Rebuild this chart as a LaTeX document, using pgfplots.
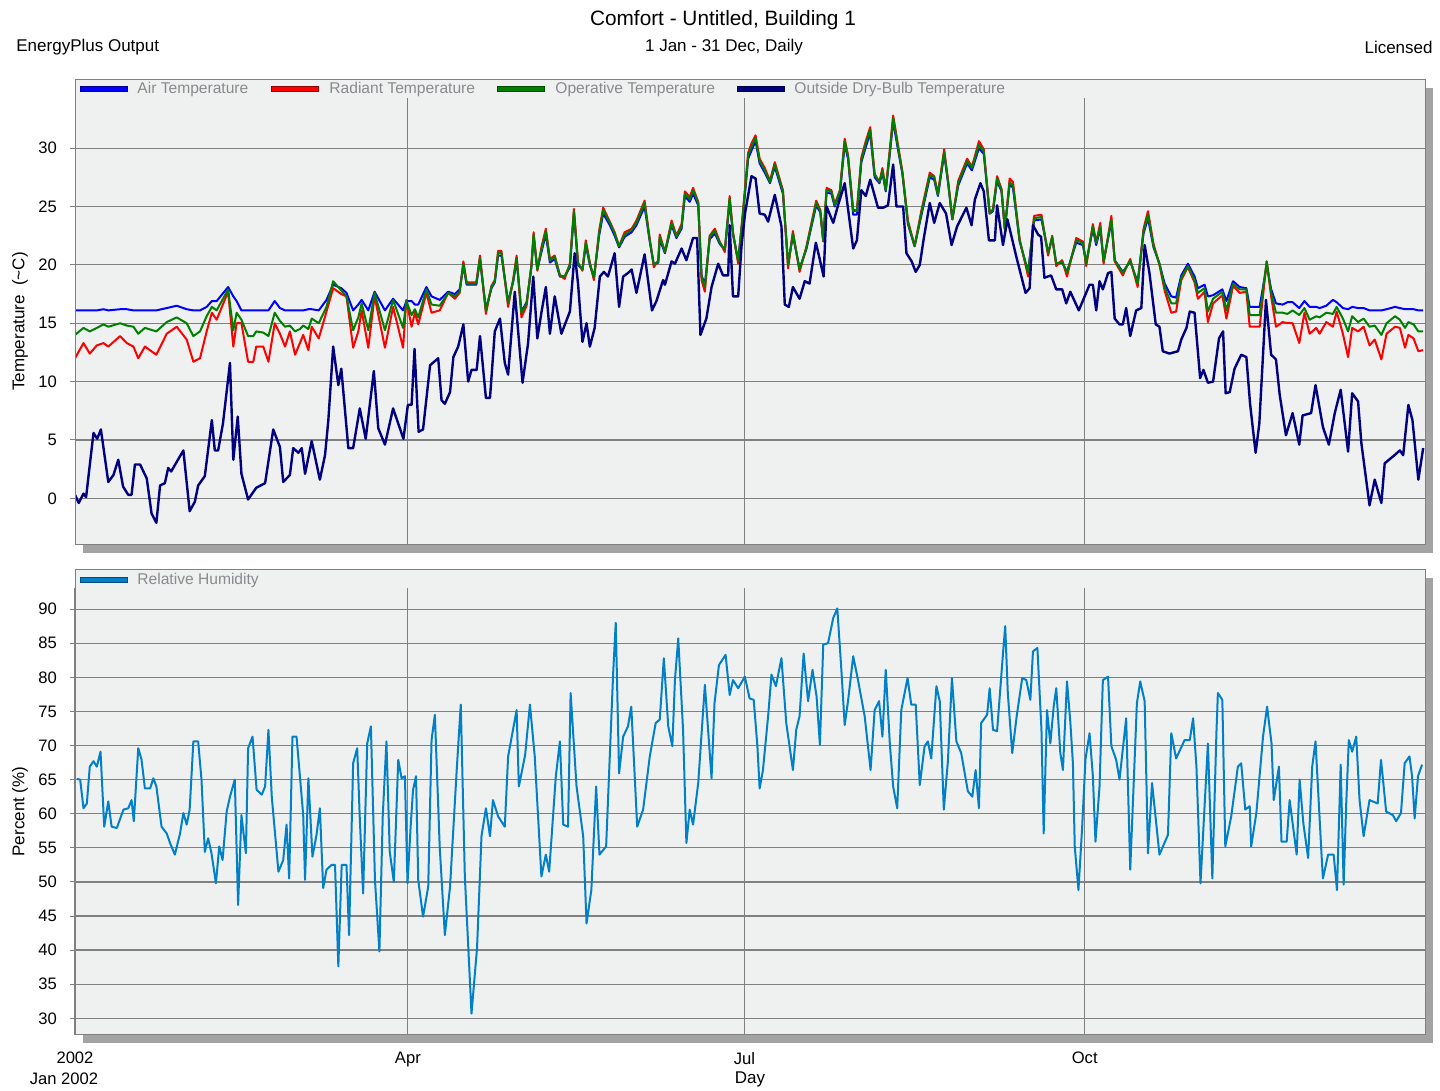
\documentclass[border=0pt]{standalone}
\usepackage{fontspec}
\setmainfont{Liberation Sans}
\usepackage{pgfplots}
\usepackage{pgfplotstable}
\pgfplotsset{compat=1.18}
\definecolor{bgc}{RGB}{239,240,240}
\definecolor{shadowc}{RGB}{163,163,163}
\definecolor{gridc}{RGB}{128,128,128}
\definecolor{legtxt}{RGB}{138,138,142}
\definecolor{airc}{RGB}{0,0,255}
\definecolor{radc}{RGB}{255,0,0}
\definecolor{opc}{RGB}{0,128,0}
\definecolor{outc}{RGB}{0,0,128}
\definecolor{rhc}{RGB}{0,128,200}

\pgfplotstableread{
d air rad op
0 16.1 12.0 14.0
2.3 16.1 13.3 14.6
4 16.1 12.4 14.3
5.9 16.1 13.1 14.6
7.7 16.2 13.3 14.9
9 16.1 13.0 14.7
12.2 16.2 13.9 15.0
14 16.2 13.3 14.8
15.8 16.1 13.0 14.7
17.1 16.1 12.0 14.1
18.9 16.1 13.0 14.6
22 16.1 12.3 14.3
24.8 16.3 14.1 15.1
27.5 16.5 14.7 15.5
30.2 16.2 13.6 15.0
32 16.1 11.7 13.9
33.8 16.1 12.0 14.3
35.6 16.4 14.3 15.6
37 16.9 15.9 16.4
38.3 16.9 15.3 16.1
41.4 18.1 17.7 17.9
42.8 17.3 13.0 14.4
43.7 16.9 15.0 15.9
45 16.1 15.0 15.3
46.8 16.1 11.7 13.9
48.2 16.1 11.7 13.9
49 16.1 13.0 14.3
50.9 16.1 13.0 14.2
52.3 16.1 11.7 13.9
54 16.9 15.0 15.9
55.4 16.3 14.1 15.2
56.8 16.1 13.0 14.7
58.1 16.1 14.3 14.8
59.5 16.1 12.3 14.3
60.8 16.1 13.3 14.5
61.7 16.1 14.0 14.8
63.1 16.2 12.7 14.5
64 16.2 14.7 15.4
65.9 16.1 13.7 15.0
68 17.0 16.0 16.4
69.8 18.3 18.0 18.6
72 18.0 17.5 17.8
73.4 17.6 17.3 17.3
75.2 16.1 12.9 14.4
76.6 16.6 14.3 15.5
77.5 17.0 16.1 16.7
79.3 16.1 12.9 14.4
81 17.7 17.3 17.6
83.8 16.1 12.9 14.4
86 17.1 16.4 17.0
88.7 16.1 12.9 14.6
89.6 16.9 17.0 16.9
91 16.9 14.7 15.7
91.9 16.6 15.9 16.2
92.8 16.6 14.9 15.5
95 18.1 17.6 17.9
96.4 17.3 15.9 16.6
98.6 17.0 16.1 16.5
100.9 17.7 17.6 17.6
102.7 17.5 17.1 17.3
104 17.9 17.6 17.7
105 19.9 20.3 20.1
105.9 18.3 18.5 18.4
108.5 18.3 18.5 18.4
109.5 20.4 20.8 20.6
111.1 16.2 15.8 16.1
112.6 18.0 18.2 18.1
113.5 18.5 18.7 18.6
114.4 20.8 21.2 21.0
115.3 20.8 21.2 21.0
117.1 16.8 16.4 16.7
118.5 18.6 18.8 18.7
119.4 20.4 20.8 20.6
120.7 16.0 15.5 15.9
122.1 16.8 16.5 16.7
123.4 19.8 20.0 19.9
124 22.4 22.8 22.6
125 19.6 19.5 19.6
126.1 21.1 21.5 21.3
127.3 22.6 23.1 22.9
128.4 20.2 20.5 20.4
129.7 20.5 20.8 20.7
131.1 19.0 19.1 19.1
132.4 19.0 18.8 19.0
133.8 19.8 20.1 20.0
134.9 24.4 24.8 24.6
136 20.0 20.2 20.1
137.2 19.6 19.5 19.6
138.1 21.7 22.1 21.9
139.2 20.0 20.2 20.1
140.3 18.9 18.7 18.9
141.7 22.5 22.9 22.7
142.8 24.4 24.9 24.7
144.6 23.4 23.7 23.6
145.9 22.5 22.8 22.7
147.1 21.5 21.6 21.6
148.6 22.4 22.8 22.6
150.5 22.8 23.1 23.0
151.8 23.4 23.8 23.6
154 25.0 25.5 25.3
155.4 22.0 22.2 22.1
156.5 20.0 19.8 20.0
157.7 20.2 20.4 20.3
158.1 22.2 22.6 22.4
159.5 21.0 21.1 21.1
161.3 23.4 23.8 23.6
162.6 22.3 22.5 22.4
164 23.1 23.5 23.3
164.9 25.9 26.3 26.1
166.2 25.4 25.8 25.6
167.1 26.1 26.6 26.4
168.5 25.1 25.4 25.3
169.4 19.1 18.7 19.0
170.3 18.3 17.7 18.1
171.6 22.2 22.5 22.4
173 22.7 23.1 22.9
174.3 21.8 22.0 21.9
175.7 21.3 21.1 21.3
177 25.4 25.9 25.7
177.9 22.6 22.8 22.7
179.3 20.4 20.1 20.3
180.6 24.2 24.6 24.4
182 29.1 29.6 29.4
182.9 29.8 30.4 30.1
184 30.6 31.1 30.9
185.1 28.7 29.1 28.9
186.5 27.9 28.3 28.1
187.9 27.0 27.2 27.1
189.2 28.4 28.8 28.6
191.4 26.1 26.4 26.3
192.8 20.1 19.7 20.0
194.1 22.5 22.9 22.7
195.9 19.7 19.4 19.6
197.7 21.3 21.5 21.4
200.4 25.1 25.5 25.3
201.5 24.5 24.7 24.6
202.3 22.1 22.0 22.1
203.2 26.2 26.6 26.4
204.5 26.1 26.4 26.3
205.4 25.0 25.2 25.1
206.8 26.1 26.4 26.3
208.1 30.3 30.8 30.6
209 29.1 29.4 29.3
210.4 24.3 24.7 24.6
211.4 24.3 24.7 24.6
212.6 28.8 29.2 29.0
213.8 30.1 30.6 30.4
215 31.3 31.8 31.6
216.2 27.5 27.8 27.7
217.5 27.0 27.1 27.1
218.3 27.9 28.3 28.1
219.2 26.3 26.5 26.4
220.3 29.5 29.9 29.7
221.2 32.3 32.8 32.6
222.5 29.9 30.3 30.1
223.7 27.8 28.0 27.9
225.2 23.5 23.8 23.6
227 21.6 21.6 21.6
228.8 24.2 24.6 24.4
231.1 27.5 27.9 27.7
232.3 27.3 27.6 27.5
233.3 25.9 26.1 26.0
235 29.5 29.9 29.7
236.1 26.9 27.1 27.0
237.2 23.9 23.9 23.9
238.8 26.8 27.2 27.0
241.2 28.7 29.1 28.9
242.5 28.1 28.4 28.3
244.4 30.0 30.6 30.3
245.7 29.5 29.9 29.7
247.3 24.4 24.4 24.4
248.2 24.6 24.8 24.7
249.3 27.2 27.6 27.4
250.5 26.3 26.5 26.4
251.4 23.1 23.0 23.1
252.7 26.9 27.4 27.1
253.6 26.6 27.1 26.8
255.4 22.0 22.2 22.1
257.7 19.4 19.0 19.3
259.3 23.8 24.2 24.0
261.3 23.9 24.3 24.1
263.1 21.0 20.8 21.0
264.2 22.3 22.5 22.4
265.3 20.1 19.9 20.1
266.9 20.2 20.4 20.3
268.2 19.4 19.0 19.3
270.7 21.9 22.3 22.1
272.5 21.7 22.0 21.9
273.4 20.2 19.9 20.1
275.2 23.1 23.5 23.3
276.1 21.7 21.9 21.9
277.2 23.1 23.6 23.3
278.1 20.3 20.1 20.3
280.2 23.7 24.2 23.9
281.1 20.4 20.3 20.4
283.3 19.4 19.1 19.3
285.3 20.3 20.5 20.4
287.3 18.5 18.1 18.4
288.9 22.7 23.1 22.9
290.1 24.0 24.6 24.3
291.6 21.5 21.8 21.6
293.2 20.1 20.0 20.1
294.6 18.4 17.8 18.1
296.4 17.3 15.9 16.7
297.7 17.2 16.0 16.7
299.1 19.1 18.7 18.9
300.9 20.1 19.8 19.9
302.7 19.0 18.5 18.7
303.6 18.0 17.1 17.6
305.4 18.3 17.7 18.0
306.3 17.3 15.1 16.0
307.7 17.4 16.7 17.1
310.2 17.9 17.4 17.7
311.3 16.9 15.4 16.1
313.1 18.6 18.2 18.4
314.9 18.1 17.6 17.9
316.7 18.0 17.7 17.9
317.6 16.4 14.7 15.7
320.3 16.4 14.7 15.7
322.2 20.0 20.3 20.3
323.4 17.9 17.3 17.6
324.7 16.7 14.7 15.9
326.5 16.6 15.1 15.9
327.8 16.8 15.0 15.8
329.2 16.8 15.0 16.1
331 16.3 13.3 15.7
332.4 16.9 15.9 16.3
333.8 16.4 14.1 15.3
335.6 16.4 14.6 15.6
336.5 16.3 14.1 15.5
338.3 16.5 15.1 15.9
340.1 17.0 14.7 15.8
341.1 16.8 16.0 16.4
342.8 16.3 14.1 15.4
344.2 16.2 12.1 14.3
345.3 16.4 14.6 15.6
346.9 16.3 14.3 15.1
348.4 16.3 14.7 15.4
350 16.1 13.1 14.7
351.4 16.1 13.6 14.8
353.2 16.1 11.9 14.0
354.6 16.2 14.1 15.0
356.9 16.4 14.7 15.6
358.2 16.3 14.6 15.3
359.6 16.2 12.9 14.6
360.5 16.2 14.0 15.1
361.9 16.2 13.7 14.9
363.2 16.1 12.6 14.3
364.5 16.1 12.7 14.3
}\indoor

\pgfplotstableread{
d t
0 0.3
1 -0.4
2.3 0.4
3 0.1
5 5.6
6 5.1
7 5.9
9 1.4
10.4 2.0
11.7 3.3
13 1.0
14.4 0.3
15.3 0.3
16.2 2.9
17.6 2.9
19.4 1.7
20.7 -1.3
22 -2.1
23 1.1
24.3 1.3
25.2 2.6
26 2.3
29.3 4.1
31 -1.1
32.4 -0.3
33.3 1.1
35.1 1.9
37 6.7
37.8 4.1
38.7 4.1
40 6.4
41.9 11.6
42.8 3.3
44 7.0
45 2.1
46.8 -0.1
49 0.9
51.4 1.3
53.6 5.9
55.4 4.4
56.3 1.4
58.1 2.0
59 4.3
60.4 3.9
61.3 4.3
62.2 2.1
64 4.9
66.2 1.6
67.6 3.7
68.5 6.7
69.8 13.0
71.2 9.7
72 11.1
73.9 4.3
75.2 4.3
77 7.7
78.6 5.1
80.8 10.9
82 6.0
83.8 4.6
86 7.7
88.8 5.1
90 8.0
91 8.0
91.8 12.8
92.9 5.7
94.1 5.9
96 11.4
98.2 12.0
99.1 8.4
100 8.1
101.4 9.1
102.3 12.1
103.6 13.0
105 14.9
106.3 10.0
107.2 11.0
108.6 11.0
109.5 13.9
111.1 8.6
112.2 8.6
113.5 14.3
114.9 15.4
116.2 11.6
117.1 10.6
118.9 17.7
121 9.9
122.5 13.3
123.9 19.0
125 13.7
126.1 15.9
127.3 18.1
128.4 14.1
129.7 17.3
131.5 14.1
133.8 16.0
135.1 21.0
136 18.4
137.2 13.4
138.3 15.0
139.2 13.0
140.5 14.6
141.9 19.0
143 19.4
144.1 19.0
145.9 21.0
147.1 16.4
148.2 19.0
149.5 19.3
150.5 19.6
151.8 17.6
154 20.9
156 16.1
157.2 16.9
159 18.7
159.5 18.3
161.3 20.3
162.2 20.1
164 21.4
165.3 20.4
167.1 22.3
168.2 22.3
169.1 14.0
170.7 15.4
172.1 18.1
173.9 20.1
175.2 19.1
176.6 19.1
177 23.4
177.9 17.3
179.3 17.3
180.2 21.6
181.2 24.5
182.9 27.6
184 27.4
185.1 24.4
186.5 24.3
187.4 23.7
189.2 26.0
191 23.3
191.9 16.6
193 16.4
194.1 18.1
195.9 17.1
197.3 18.6
198.6 18.4
200.3 21.9
201.2 20.7
202.4 19.0
203.2 25.0
205 23.6
206.3 25.1
208.1 27.0
210.4 21.4
211.4 22.1
212.6 26.4
213.8 25.9
215 27.3
217.1 24.9
218.5 24.9
219.8 25.1
221.2 28.6
222.1 25.0
223.9 25.0
224.8 21.0
226.2 20.3
227.3 19.4
228.4 20.0
229.5 22.3
231.1 25.3
232.3 23.6
233.8 25.3
235.5 24.4
237 21.7
238.5 23.3
241 24.9
242.4 23.4
243.3 25.6
244.8 27.0
245.7 26.3
247.1 22.1
248.7 22.1
249.3 25.1
250.9 21.7
252.1 23.9
254.5 20.7
257 17.6
258.1 18.0
259 23.4
260.4 22.6
261.2 22.4
262.1 18.9
263.9 19.1
265.3 17.9
266.9 17.9
268 16.7
269.1 17.7
271.4 16.1
274.3 18.3
275.2 18.3
276.1 16.1
277 18.6
277.9 17.9
279.3 19.3
280.2 19.4
281.1 15.4
282.4 14.9
283.3 14.9
284.2 16.3
285.3 13.9
286.9 16.1
288.3 16.3
289.2 21.7
290.5 19.3
292.2 14.9
293.2 14.7
294.1 12.6
295.9 12.4
298.2 12.6
299.1 13.6
300.5 14.6
301.4 16.0
302.7 15.9
304.2 10.3
305.1 11.0
306.3 9.9
307.7 10.0
309.3 13.7
310.4 14.3
311.1 9.0
312.2 9.1
313.5 11.1
315.3 12.3
316.7 12.1
317.7 8.1
319.2 3.9
320.2 6.4
322 17.0
323.4 12.3
324.7 11.9
325.7 8.9
327.4 5.4
329.2 7.3
331 4.6
331.9 7.1
334.2 7.3
335.4 9.7
337.4 6.1
339 4.6
340.6 7.3
342.2 9.3
344.2 4.0
345.3 9.0
346.9 8.3
347.8 4.7
350 -0.6
351.4 1.6
353.2 -0.4
354.1 3.0
356.4 3.6
358.2 4.1
359.1 3.7
360.5 8.0
361.6 6.7
363.2 1.6
364.5 4.3
}\outdoor

\pgfplotstableread{
d rh
0.5 65.1
1.4 65.0
2.3 60.8
3.2 61.5
4 66.9
5 67.7
5.9 66.9
6.9 69.1
7.9 58.1
9 61.8
9.9 58.1
11.3 57.9
13.1 60.6
14.4 60.8
15.3 62.0
15.9 58.9
17.1 69.6
18 67.9
18.9 63.7
20.3 63.7
21.2 65.2
22 64.0
23.4 58.1
24.8 57.1
25.7 55.7
27 54.0
28.4 57.1
29.3 60.1
30.2 58.4
31 60.6
32 70.6
33.3 70.6
34.2 65.0
35.1 54.4
36 56.4
36.9 54.2
38.1 49.8
39 55.2
39.9 53.2
41 60.3
41.9 62.5
43.2 65.0
44.1 46.6
45 59.8
46.2 54.2
46.8 69.6
48 71.3
49.1 63.5
50.5 62.8
51.4 64.0
52.3 72.3
53.2 62.5
55 51.5
56.3 53.2
57.2 58.4
57.9 50.5
58.8 71.3
59.9 71.3
61.7 59.8
62.2 50.3
63.1 65.2
64.2 53.7
65.3 56.9
66.2 60.8
67.1 49.1
68 51.8
69.4 52.5
70.3 52.5
71.2 37.6
72.1 52.5
73.4 52.5
74.1 42.2
75.2 67.4
76.3 69.6
77 59.3
77.9 48.3
79 70.3
80 72.8
81.1 50.3
82.3 39.8
83.2 59.6
84.2 70.6
85.1 54.4
86.2 50.0
87.4 67.9
88.3 65.2
89.2 65.5
89.9 49.8
90.8 58.6
91.4 63.5
92.2 65.5
92.8 50.3
94.1 44.9
95.5 49.3
96.4 70.8
97.3 74.5
98.6 55.2
100 42.2
101.4 49.3
103.2 66.4
104.3 76.0
105.4 50.8
107.2 30.7
108.7 40.3
109.9 56.7
111.1 60.8
112.2 56.7
113 62.0
114.4 59.6
116.2 58.1
117.1 68.4
119.4 75.2
120 64.0
121.7 68.6
123 76.0
124.3 68.4
126.1 50.8
127.3 54.0
128.2 51.5
130 65.5
131.1 70.6
132 58.4
133.3 58.1
134 77.7
135.6 64.0
137.4 56.7
138.3 43.9
139.6 48.8
140.9 64.0
141.8 54.0
143.6 55.2
145.5 80.6
146.2 88.0
147.1 65.9
148.2 71.3
149.5 72.8
150.4 75.7
152 58.1
153.6 60.6
155.4 68.4
157 73.3
158.1 73.8
159.2 82.8
160.4 72.8
161.5 69.9
162.2 79.6
163.1 85.7
164.4 72.3
165.3 55.7
166.2 60.6
167.1 58.4
168.5 64.5
170.3 78.9
172.1 65.2
172.9 76.2
174.1 81.8
175.9 83.3
177 77.4
177.9 79.6
179.3 78.4
181.1 80.1
182.4 76.9
183.5 76.7
184.5 69.9
185.1 63.7
186 66.4
187.4 74.3
188.3 80.4
189.5 78.7
191 82.8
192.3 73.3
194.1 66.4
195 72.3
195.9 74.3
197 83.5
198.2 76.5
199.4 81.1
200.5 77.2
201.4 70.1
202.3 84.8
203.6 85.0
205 88.7
206.1 90.1
207.2 81.1
208.1 73.0
209 76.5
210.4 83.1
211.7 79.6
213.5 74.3
215.1 66.4
216.2 75.2
217.4 76.5
218.3 71.3
219.2 81.1
220.3 70.3
221.2 64.0
222.3 60.8
223.4 75.2
225.1 79.9
226.1 76.0
227.3 76.0
228.4 64.2
229.7 69.9
230.6 70.6
231.5 68.1
232.9 78.7
233.8 76.5
234.9 60.6
236 67.7
237.1 79.9
238.3 70.6
239.6 68.9
241.4 63.3
242.6 62.5
243.5 66.4
244.4 60.8
245 73.3
246.6 74.5
247.3 78.4
248.2 72.3
249.3 72.1
250.9 83.5
251.5 87.5
252.2 77.7
253.4 68.9
254.6 74.3
256.1 79.9
257.2 79.6
258.3 76.7
259 83.8
260.2 84.3
261.3 72.3
261.9 57.1
262.8 75.2
263.7 70.3
264.6 75.7
265.3 78.4
266.4 68.9
267.1 66.4
268.2 79.4
269.1 73.5
269.8 67.4
270.3 55.2
271.3 48.8
272.3 58.0
273.2 68.0
274.3 71.8
275.2 65.5
275.9 55.9
277 64.0
277.9 79.6
279.3 80.1
280.2 69.9
281.5 67.9
282.4 65.0
284.2 74.0
285.3 51.8
286.2 64.0
287.1 76.2
288 79.4
289.2 76.5
290.1 54.2
291.2 64.5
293.2 54.0
295.5 56.9
296.4 71.8
297.7 68.1
300 70.8
301.4 70.8
302.3 74.0
303.2 66.9
304.3 49.8
305.4 61.1
306.3 70.3
307.5 50.5
308.6 71.8
309 77.7
310.2 76.7
311 55.2
312.6 59.6
314.4 66.9
315.3 67.4
316.4 60.6
317.6 61.1
318 55.2
319.4 60.1
321.2 71.3
322.3 75.7
323.5 70.3
324.1 62.0
325.5 66.9
326.2 55.9
327.6 55.9
328.4 62.0
330.3 54.0
331.1 65.0
332.1 58.6
333.4 53.5
334.5 66.9
335.4 70.6
337 54.2
337.4 50.5
338.8 54.0
340.3 54.0
341.2 48.8
342.2 67.2
343 49.6
343.7 61.5
344.4 70.8
345.3 69.1
346.4 71.3
347.3 62.0
348.4 56.7
350 62.0
352.2 61.5
353.1 67.9
354.5 60.3
356.3 59.8
357.2 58.9
358.5 60.1
359.5 67.4
360.8 68.4
361.5 65.5
362.2 59.3
363.1 65.5
364.2 67.2
}\humid

\pgfplotsset{
  chartbase/.style={
    anchor=south west, scale only axis, width=675pt, height=223.5pt,
    xmin=0, xmax=365,
    axis line style={draw=none},
    grid=major,
    major grid style={gridc, line width=0.6pt},
    ytick pos=left, tick align=outside,
    xtick style={draw=none},
    ytick style={gridc, line width=0.5pt},
    major tick length=2.5pt,
    minor tick num=0,
    /pgf/number format/assume math mode=true,
    tick label style={font=\fontsize{8.3}{10}\selectfont, text=black},
    yticklabel style={xshift=-3pt},
    label style={font=\fontsize{8.5}{10}\selectfont},
    ylabel style={at={(axis description cs:-0.04074,0.5)}, anchor=center},
    line join=round,
  }
}

\begin{document}
\begin{tikzpicture}
\useasboundingbox (0,0) rectangle (720pt,545.5pt);
% panel backgrounds with drop shadows
\fill[shadowc] (41.5pt,269pt) rectangle (716.5pt,501.5pt);
\fill[bgc] (37.5pt,273pt) rectangle (712.5pt,505.5pt);
\fill[shadowc] (41.5pt,24pt) rectangle (716.5pt,256.5pt);
\fill[bgc] (37.5pt,28pt) rectangle (712.5pt,260.5pt);

% header
\node[font=\fontsize{10.4}{12}\selectfont] at (361.5pt,535.5pt) {Comfort - Untitled, Building 1};
\node[font=\fontsize{8.5}{10}\selectfont] at (362pt,522pt) {1 Jan - 31 Dec, Daily};
\node[font=\fontsize{8.5}{10}\selectfont, anchor=west, inner sep=0pt] at (8pt,522pt) {EnergyPlus Output};
\node[font=\fontsize{8.5}{10}\selectfont, anchor=east, inner sep=0pt] at (716.5pt,522pt) {Licensed};

% top panel: temperatures
\begin{axis}[chartbase,
  at={(37.5pt,273pt)},
  ymin=-4.0, ymax=34.3,
  xtick={90,181,273}, xticklabels={},
  ytick={0,5,...,30},
  ylabel={Temperature\ \ (\textasciitilde C)},
]
\addplot[airc, line width=1pt, no marks] table[x=d, y=air] {\indoor};
\addplot[radc, line width=1pt, no marks] table[x=d, y=rad] {\indoor};
\addplot[opc, line width=1pt, no marks] table[x=d, y=op] {\indoor};
\addplot[outc, line width=1.2pt, no marks] table[x=d, y=t] {\outdoor};
\end{axis}

% bottom panel: relative humidity
\begin{axis}[chartbase,
  at={(37.5pt,28pt)},
  ymin=27.55, ymax=93.1,
  xtick={0,90,181,273}, xticklabels={2002,Apr,Jul,Oct},
  xticklabel style={yshift=-2.5pt},
  ytick={30,35,...,90},
  ylabel={Percent (\%)},
  xlabel={Day},
  xlabel style={at={(axis description cs:0.5,-0.0984)}, anchor=center},
]
\addplot[rhc, line width=1pt, no marks] table[x=d, y=rh] {\humid};
\end{axis}

\node[font=\fontsize{8.3}{10}\selectfont] at (32pt,6pt) {Jan 2002};

% panel borders
\draw[gridc, line width=0.5pt] (37.5pt,273pt) rectangle (712.5pt,505.5pt);
\draw[gridc, line width=0.5pt] (37.5pt,28pt) rectangle (712.5pt,260.5pt);

% legends
\begin{scope}[every node/.style={font=\fontsize{7.8}{9}\selectfont, text=legtxt, anchor=west, inner sep=0pt}]
\filldraw[fill=airc, draw=airc!60!black, line width=0.3pt] (40pt,499.6pt) rectangle (63.5pt,502.4pt);
\node at (68.5pt,501pt) {Air Temperature};
\filldraw[fill=radc, draw=radc!60!black, line width=0.3pt] (135.5pt,499.6pt) rectangle (159pt,502.4pt);
\node at (164.5pt,501pt) {Radiant Temperature};
\filldraw[fill=opc, draw=opc!60!black, line width=0.3pt] (248.5pt,499.6pt) rectangle (272pt,502.4pt);
\node at (277.5pt,501pt) {Operative Temperature};
\filldraw[fill=outc, draw=outc!60!black, line width=0.3pt] (368.5pt,499.6pt) rectangle (392pt,502.4pt);
\node at (397pt,501pt) {Outside Dry-Bulb Temperature};
\filldraw[fill=rhc, draw=rhc!60!black, line width=0.3pt] (40pt,254.1pt) rectangle (63.5pt,256.9pt);
\node at (68.5pt,255.5pt) {Relative Humidity};
\end{scope}
\end{tikzpicture}
\end{document}
